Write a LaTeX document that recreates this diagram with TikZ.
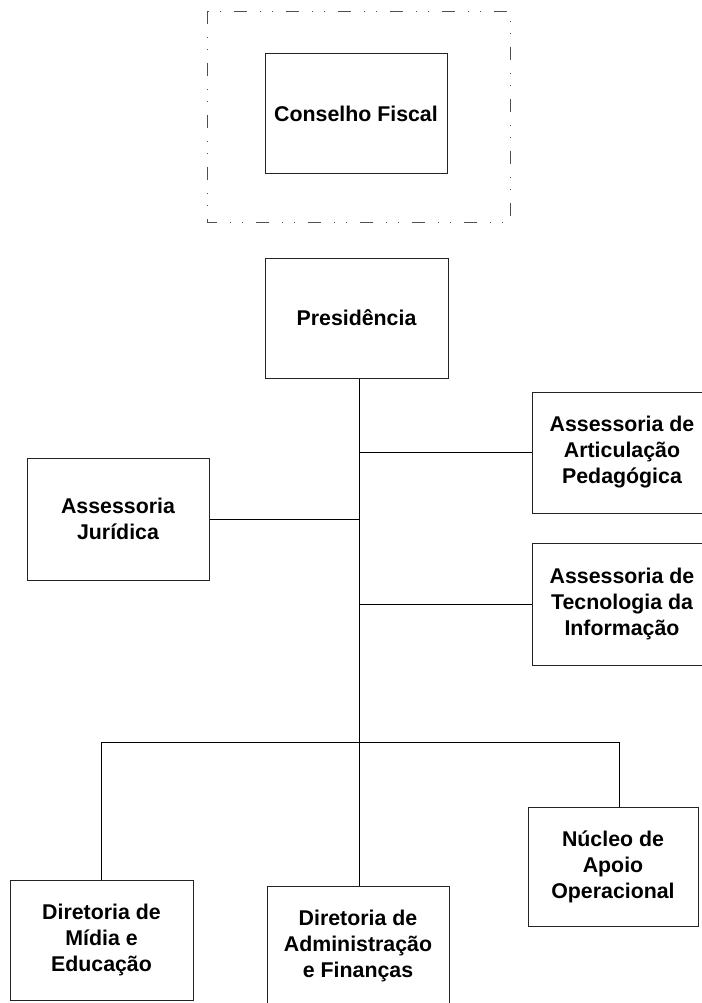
\documentclass[tikz,border=0pt]{standalone}
\usepackage{fontspec}
\setmainfont{Liberation Sans}
\usetikzlibrary{positioning, calc}
\definecolor{OrgLine}{RGB}{35, 35, 35}
\definecolor{OrgFrame}{RGB}{80, 80, 80}

\tikzset{
  orgbox/.style={draw=OrgLine, line width=0.75pt, fill=white, align=center,
    minimum width=136.5pt, minimum height=90pt, inner sep=0pt,
    font=\fontsize{16}{19.5}\selectfont\bfseries},
  orglink/.style={draw=black, line width=0.75pt},
  orgframe/.style={draw=OrgFrame, line width=0.75pt,
    dash pattern=on 9.75pt off 9.75pt on 0.75pt off 8.25pt on 0.75pt off 9.75pt}
}

\begin{document}
\begin{tikzpicture}[x=0.75pt,y=-0.75pt]
  \path[use as bounding box] (0,0) rectangle (701,1003);

  % Conselho Fiscal
  \draw[orgframe] (207,11) rectangle (510,222);
  \node[orgbox] (fiscal) at (356,113.5) {Conselho Fiscal};

  % Presidência and assessorias
  \node[orgbox, minimum width=137.25pt] (pres) at (356.5,318) {Presidência};
  \node[orgbox, minimum height=91.5pt] (juridica) at (118,519) {Assessoria\\Jurídica};
  \node[orgbox, minimum width=135pt, minimum height=90.75pt] (articula) at (622,452.5)
    {Assessoria de\\Articulação\\Pedagógica};
  \node[orgbox, minimum width=135pt, minimum height=91.5pt] (tecno) at (622,604)
    {Assessoria de\\Tecnologia da\\Informação};

  % Diretorias
  \node[orgbox, minimum width=137.25pt] (midia) at (101.5,940) {Diretoria de\\Mídia e\\Educação};
  \node[orgbox] (admin) at (358,946) {Diretoria de\\Administração\\e Finanças};
  \node[orgbox, minimum width=127.5pt, minimum height=89.25pt] (nucleo) at (613,866.5)
    {Núcleo de\\Apoio\\Operacional};

  % Connectors
  \coordinate (trunk) at (359,742);
  \coordinate (busR) at (619,742);
  \draw[orglink] (pres.south -| trunk) -- ([yshift=-3pt]trunk);
  \draw[orglink] (trunk |- articula.west) -- (articula.west);
  \draw[orglink] (juridica.east) -- (trunk |- juridica.east);
  \draw[orglink] (trunk |- tecno.west) -- (tecno.west);
  \draw[orglink] (midia.north) -- (midia.north |- trunk) -- (busR) -- (busR |- nucleo.north);
  \draw[orglink] (trunk) -- (trunk |- admin.north);
\end{tikzpicture}
\end{document}
